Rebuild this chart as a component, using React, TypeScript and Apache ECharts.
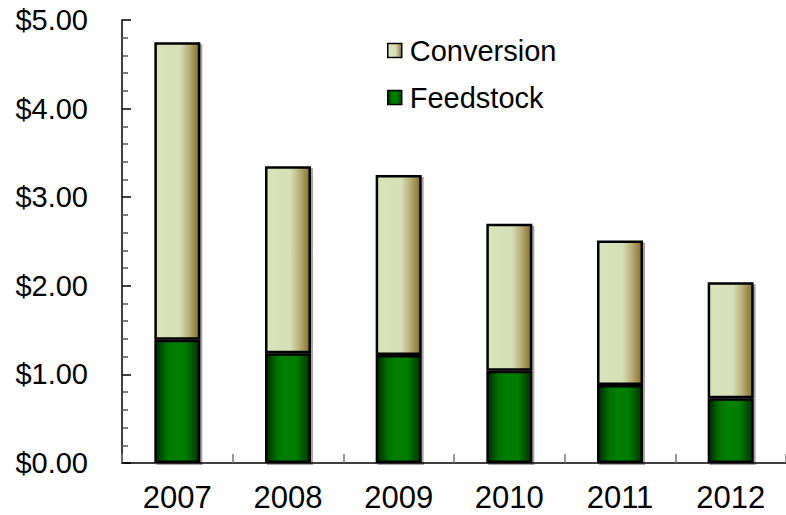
import React, { useEffect, useRef } from "react";
import * as echarts from "echarts";

const years = ["2007", "2008", "2009", "2010", "2011", "2012"];
const feedstock = [1.39, 1.24, 1.22, 1.04, 0.88, 0.73];
const conversion = [3.36, 2.11, 2.03, 1.66, 1.63, 1.31];
const yTicks = [0, 1, 2, 3, 4, 5];

const FONT = "'Liberation Sans', Arial, sans-serif";

export default function App() {
  const ref = useRef<HTMLDivElement>(null);
  useEffect(() => {
    document.body.style.margin = "0";
    if (!ref.current) return;
    const chart = echarts.init(ref.current, null, { renderer: "svg" });
    const convGrad = new echarts.graphic.LinearGradient(0, 0, 1, 0, [
      { offset: 0, color: "#d8e3bc" },
      { offset: 0.55, color: "#d6e0b7" },
      { offset: 0.75, color: "#b9b47e" },
      { offset: 1, color: "#86702a" },
    ]);
    const feedGrad = new echarts.graphic.LinearGradient(0, 0, 1, 0, [
      { offset: 0, color: "#002a00" },
      { offset: 0.25, color: "#007200" },
      { offset: 0.45, color: "#008000" },
      { offset: 0.7, color: "#007a00" },
      { offset: 1, color: "#003300" },
    ]);
    const common = {
      borderColor: "#000",
      borderWidth: 2.5,
      shadowColor: "rgba(0,0,0,0.35)",
      shadowOffsetX: 2,
      shadowOffsetY: 2,
      shadowBlur: 1,
    };
    chart.setOption({
      animation: false,
      backgroundColor: "#fff",
      textStyle: { fontFamily: FONT },
      grid: { left: 122, right: -8, top: 20, bottom: 52, containLabel: false },
      legend: {
        orient: "vertical",
        left: 382,
        top: 31,
        icon: "rect",
        itemWidth: 14,
        itemHeight: 14,
        itemGap: 18,
        data: ["Conversion", "Feedstock"],
        itemStyle: { borderColor: "#000", borderWidth: 1.5, shadowBlur: 0, shadowOffsetX: 0, shadowOffsetY: 0 },
        textStyle: { fontSize: 29, color: "#000", fontFamily: FONT, padding: [0, 0, 0, 3] },
      },
      xAxis: {
        type: "category",
        data: years,
        axisLine: { lineStyle: { color: "#000", width: 1.5 } },
        axisTick: { show: true, inside: true, length: 9, alignWithLabel: false, lineStyle: { color: "#777", width: 1.5 } },
        axisLabel: { fontSize: 31, lineHeight: 26, color: "#000", margin: 21, fontFamily: FONT },
      },
      yAxis: {
        type: "value",
        min: yTicks[0],
        max: yTicks[yTicks.length - 1],
        interval: 1,
        splitLine: { show: false },
        axisLine: { show: true, lineStyle: { color: "#000", width: 1.5 } },
        axisTick: { show: true, inside: true, length: 9, lineStyle: { color: "#000", width: 1.5 } },
        minorTick: { show: true, splitNumber: 5, length: 6, lineStyle: { color: "#555", width: 1.5 } },
        axisLabel: {
          fontSize: 29,
          color: "#000",
          margin: 34,
          fontFamily: FONT,
          formatter: (v: number) => "$" + v.toFixed(2),
        },
      },
      series: [
        {
          name: "Feedstock",
          type: "bar",
          stack: "total",
          barWidth: 46,
          data: feedstock,
          itemStyle: { color: feedGrad, ...common },
        },
        {
          name: "Conversion",
          type: "bar",
          stack: "total",
          barWidth: 46,
          data: conversion,
          itemStyle: { color: convGrad, ...common },
        },
      ],
    });
    return () => chart.dispose();
  }, []);
  return <div ref={ref} style={{ width: 786, height: 515 }} />;
}
